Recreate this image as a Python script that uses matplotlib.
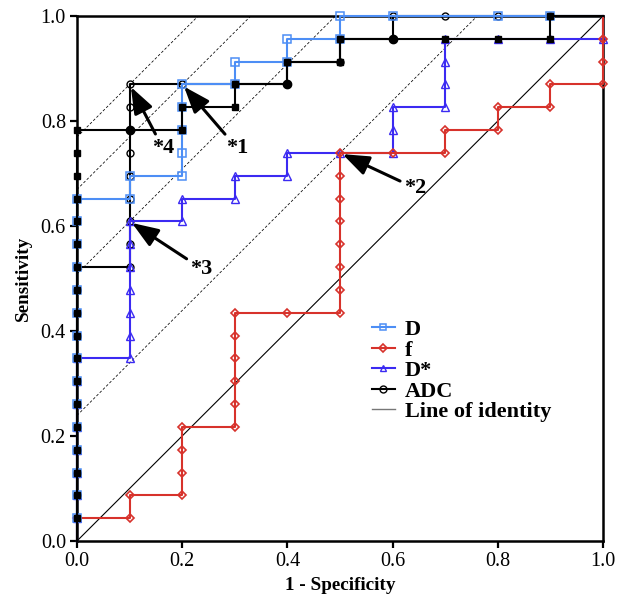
import matplotlib
matplotlib.use("Agg")
import numpy as np
import matplotlib.pyplot as plt
from matplotlib.lines import Line2D

plt.rcParams['font.family'] = ['Liberation Serif', 'DejaVu Serif']

# ROC points (1 - specificity, sensitivity)
d_fpr = [0, 0, 0, 0, 0, 0, 0, 0, 0, 0, 0, 0, 0, 0, 0, 0,
         0.1, 0.1, 0.2, 0.2, 0.2, 0.2, 0.2, 0.3, 0.3, 0.4, 0.4, 0.5, 0.5, 0.6, 0.8, 0.9, 1.0]
d_sens = [0, .0435, .087, .1304, .1739, .2174, .2609, .3043, .3478, .3913, .4348, .4783, .5217, .5652, .6087, .6522,
          .6522, .6957, .6957, .7391, .7826, .8261, .8696, .8696, .913, .913, .9565, .9565, 1.0, 1.0, 1.0, 1.0, 1.0]

f_fpr = [0, 0, 0.1, 0.1, 0.2, 0.2, 0.2, 0.2, 0.3, 0.3, 0.3, 0.3, 0.3, 0.3, 0.4, 0.5, 0.5,
         0.5, 0.5, 0.5, 0.5, 0.5, 0.5, 0.6, 0.7, 0.7, 0.8, 0.8, 0.9, 0.9, 1.0, 1.0, 1.0, 1.0]
f_sens = [0, .0435, .0435, .087, .087, .1304, .1739, .2174, .2174, .2609, .3043, .3478, .3913, .4348, .4348, .4348, .4783,
          .5217, .5652, .6087, .6522, .6957, .7391, .7391, .7391, .7826, .7826, .8261, .8261, .8696, .8696, .913, .9565, 1.0]

dstar_fpr = [0, 0, 0, 0, 0, 0, 0, 0, 0,
             0.1, 0.1, 0.1, 0.1, 0.1, 0.1, 0.1, 0.2, 0.2, 0.3, 0.3, 0.4, 0.4, 0.5,
             0.6, 0.6, 0.6, 0.7, 0.7, 0.7, 0.7, 0.8, 0.9, 1.0, 1.0]
dstar_sens = [0, .0435, .087, .1304, .1739, .2174, .2609, .3043, .3478,
              .3478, .3913, .4348, .4783, .5217, .5652, .6087, .6087, .6522, .6522, .6957, .6957, .7391, .7391,
              .7391, .7826, .8261, .8261, .8696, .913, .9565, .9565, .9565, .9565, 1.0]

adc_fpr = [0, 0, 0, 0, 0, 0, 0, 0, 0, 0, 0, 0, 0,
           0.1, 0.1, 0.1, 0.1, 0.1, 0.1, 0.1, 0.1, 0.1,
           0.2, 0.3, 0.4, 0.4, 0.5, 0.5, 0.6, 0.6, 0.7, 0.8, 0.9, 1.0]
adc_sens = [0, .0435, .087, .1304, .1739, .2174, .2609, .3043, .3478, .3913, .4348, .4783, .5217,
            .5217, .5652, .6087, .6522, .6957, .7391, .7826, .8261, .8696,
            .8696, .8696, .8696, .913, .913, .9565, .9565, 1.0, 1.0, 1.0, 1.0, 1.0]
# ADC points shown with filled circles
adc_fill_fpr = [0.1, 0.4, 0.6]
adc_fill_sens = [0.7826, 0.8696, 0.9565]

# unlabelled black curve with filled squares
comb_fpr = [0, 0, 0, 0, 0, 0, 0, 0, 0, 0, 0, 0, 0, 0, 0, 0, 0, 0, 0,
            0.1, 0.2, 0.2, 0.3, 0.3, 0.4, 0.4, 0.5, 0.5, 0.6, 0.7, 0.8, 0.9, 0.9, 1.0]
comb_sens = [0, .0435, .087, .1304, .1739, .2174, .2609, .3043, .3478, .3913, .4348, .4783, .5217, .5652, .6087, .6522, .6957, .7391, .7826,
             .7826, .7826, .8261, .8261, .8696, .8696, .913, .913, .9565, .9565, .9565, .9565, .9565, 1.0, 1.0]

# cut-off points marked with arrows
cut_labels = ['*1', '*2', '*3', '*4']
cut_fpr = [0.2, 0.5, 0.1, 0.1]
cut_sens = [0.8696, 0.7391, 0.6087, 0.8696]
label_offsets = [(0.104, -0.121), (0.143, -0.067), (0.137, -0.090), (0.063, -0.121)]

c_d = '#4d8ef5'
c_f = '#d7322b'
c_ds = '#3b2af2'

fig = plt.figure(figsize=(6.28, 5.95), dpi=100)
ax = fig.add_axes([0.1226, 0.0908, 0.8376, 0.8823])

# Youden-type dashed lines through cut-off points, and identity
for x, y in zip(cut_fpr, cut_sens):
    ax.axline((x, y), slope=1, color='k', lw=0.55, ls=(0, (3.5, 2.5)), zorder=2)
ax.axline((0, 0), slope=1, color='k', lw=0.8, zorder=2)

lw = 1.5
ax.plot(adc_fpr, adc_sens, color='k', lw=lw, marker='o', ms=5, mfc='none', mew=1.0,
        markevery=slice(1, -1), clip_on=False, zorder=3)
ax.plot(dstar_fpr, dstar_sens, color=c_ds, lw=lw, marker='^', ms=5.3, mfc='none', mew=1.0,
        markevery=slice(1, -1), clip_on=False, zorder=4)
ax.plot(f_fpr, f_sens, color=c_f, lw=lw, marker='D', ms=4.3, mfc='none', mew=1.2,
        markevery=slice(1, -1), clip_on=False, zorder=5)
ax.plot(d_fpr, d_sens, color=c_d, lw=lw, marker='s', ms=5.6, mfc='none', mew=1.1,
        markevery=slice(1, -1), clip_on=False, zorder=6)

comb_x = np.array(comb_fpr)
comb_y = np.array(comb_sens)
is_circ = np.zeros(len(comb_x), dtype=bool)
for x, y in zip(adc_fill_fpr, adc_fill_sens):
    is_circ |= np.isclose(comb_x, x) & np.isclose(comb_y, y)
sq_idx = [i for i in range(1, len(comb_x) - 1) if not is_circ[i]]
ax.plot(comb_x, comb_y, color='k', lw=lw, marker='s', ms=4.8, mfc='k', mec='k',
        markevery=sq_idx, clip_on=False, zorder=7)
ax.plot(adc_fill_fpr, adc_fill_sens, ls='none', marker='o', ms=6, color='k', zorder=8)

for lab, x, y, off in zip(cut_labels, cut_fpr, cut_sens, label_offsets):
    ax.annotate(lab, xy=(x, y), xytext=(x + off[0], y + off[1]), ha='center', va='center',
                fontsize=16, fontweight='bold',
                arrowprops=dict(arrowstyle='-|>,head_length=0.8,head_width=0.3', color='k',
                                lw=2.2, mutation_scale=20, shrinkA=1, shrinkB=2),
                zorder=9)

ax.set_xlim(0, 1)
ax.set_ylim(0, 1)
ticks = [0.0, 0.2, 0.4, 0.6, 0.8, 1.0]
ax.set_xticks(ticks)
ax.set_yticks(ticks)
ax.set_xticklabels(['%.1f' % t for t in ticks])
ax.set_yticklabels(['%.1f' % t for t in ticks])
ax.tick_params(direction='out', length=5, width=1.6, labelsize=14.5, pad=3)
for s in ax.spines.values():
    s.set_linewidth(1.8)
ax.set_xlabel('1 - Specificity', fontsize=13.8, fontweight='bold', labelpad=4)
ax.set_ylabel('Sensitivity', fontsize=13.8, fontweight='bold', labelpad=6)

handles = [
    Line2D([], [], color=c_d, lw=lw, marker='s', ms=5, mfc='none', mew=1.1),
    Line2D([], [], color=c_f, lw=lw, marker='D', ms=4, mfc='none', mew=1.2),
    Line2D([], [], color=c_ds, lw=lw, marker='^', ms=5, mfc='none', mew=1.0),
    Line2D([], [], color='k', lw=lw, marker='o', ms=5, mfc='none', mew=1.0),
    Line2D([], [], color='#777777', lw=1.0),
]
ax.legend(handles, ['D', 'f', 'D*', 'ADC', 'Line of identity'], loc='upper left',
          bbox_to_anchor=(0.56, 0.422), frameon=False, prop={'weight': 'bold', 'size': 16},
          handlelength=1.05, handletextpad=0.45, labelspacing=0.0, borderpad=0, borderaxespad=0)

fig.savefig('out.png', dpi=100)
